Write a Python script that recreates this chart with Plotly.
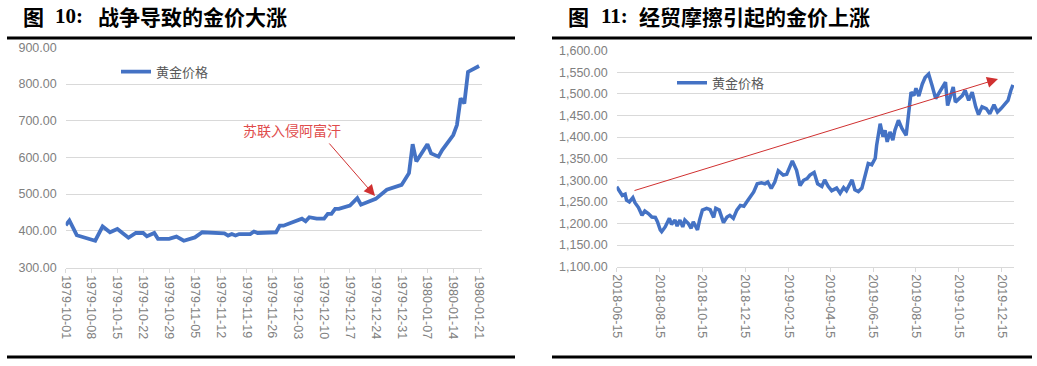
import plotly.graph_objects as go

W, H = 1037, 366

# ---------------- data: chart 10 (war, 1979-1980) ----------------
war_dates = [
    "1979-10-01", "1979-10-02", "1979-10-04", "1979-10-06", "1979-10-09", "1979-10-11",
    "1979-10-13", "1979-10-15", "1979-10-18", "1979-10-20", "1979-10-22", "1979-10-23",
    "1979-10-25", "1979-10-26", "1979-10-29", "1979-10-31", "1979-11-02", "1979-11-05",
    "1979-11-07", "1979-11-13", "1979-11-14", "1979-11-15", "1979-11-16", "1979-11-17",
    "1979-11-20", "1979-11-21", "1979-11-22", "1979-11-27", "1979-11-28", "1979-11-29",
    "1979-12-04", "1979-12-05", "1979-12-06", "1979-12-08", "1979-12-10", "1979-12-11",
    "1979-12-12", "1979-12-13", "1979-12-14", "1979-12-17", "1979-12-19", "1979-12-20",
    "1979-12-24", "1979-12-27", "1979-12-31", "1980-01-02", "1980-01-03", "1980-01-04",
    "1980-01-07", "1980-01-08", "1980-01-10", "1980-01-11", "1980-01-14", "1980-01-15",
    "1980-01-16", "1980-01-17", "1980-01-18", "1980-01-21",
]
war_price = [
    415, 428, 388, 382, 373, 412,
    396, 405, 381, 394, 394, 385,
    394, 378, 378, 384, 373, 382,
    396, 393, 387, 391, 387, 391,
    391, 398, 394, 396, 414, 414,
    433, 426, 437, 433, 433, 446,
    446, 460, 460, 469, 489, 471,
    487, 512, 525, 557, 636, 589,
    636, 611, 602, 620, 661, 688,
    761, 747, 833, 849,
]

# ---------------- data: chart 11 (trade friction, 2018-2019) ----------------
trade_dates = [
    "2018-06-15", "2018-06-20", "2018-06-23", "2018-06-27", "2018-06-29", "2018-07-03",
    "2018-07-08", "2018-07-11", "2018-07-16", "2018-07-21", "2018-07-25", "2018-07-30",
    "2018-08-04", "2018-08-09", "2018-08-12", "2018-08-16", "2018-08-18", "2018-08-23",
    "2018-08-29", "2018-09-01", "2018-09-06", "2018-09-09", "2018-09-13", "2018-09-17",
    "2018-09-20", "2018-09-25", "2018-09-29", "2018-10-02", "2018-10-08", "2018-10-11",
    "2018-10-15", "2018-10-21", "2018-10-26", "2018-10-31", "2018-11-03", "2018-11-08",
    "2018-11-14", "2018-11-19", "2018-11-23", "2018-11-28", "2018-12-03", "2018-12-08",
    "2018-12-13", "2018-12-18", "2018-12-22", "2018-12-27", "2019-01-01", "2019-01-07",
    "2019-01-12", "2019-01-16", "2019-01-21", "2019-01-26", "2019-01-31", "2019-02-07",
    "2019-02-12", "2019-02-16", "2019-02-20", "2019-02-26", "2019-03-03", "2019-03-08",
    "2019-03-13", "2019-03-17", "2019-03-23", "2019-03-28", "2019-04-03", "2019-04-07",
    "2019-04-12", "2019-04-17", "2019-04-24", "2019-04-29", "2019-05-04", "2019-05-08",
    "2019-05-16", "2019-05-20", "2019-05-25", "2019-05-30", "2019-06-04", "2019-06-08",
    "2019-06-13", "2019-06-18", "2019-06-20", "2019-06-25", "2019-06-29", "2019-07-02",
    "2019-07-05", "2019-07-09", "2019-07-13", "2019-07-16", "2019-07-21", "2019-07-26",
    "2019-08-01", "2019-08-04", "2019-08-08", "2019-08-12", "2019-08-15", "2019-08-19",
    "2019-08-24", "2019-08-28", "2019-09-02", "2019-09-07", "2019-09-12", "2019-09-16",
    "2019-09-21", "2019-09-26", "2019-09-29", "2019-10-03", "2019-10-07", "2019-10-10",
    "2019-10-15", "2019-10-20", "2019-10-24", "2019-10-29", "2019-11-03", "2019-11-08",
    "2019-11-12", "2019-11-17", "2019-11-23", "2019-11-28", "2019-12-04", "2019-12-09",
    "2019-12-14", "2019-12-19", "2019-12-24", "2019-12-28", "2019-12-31",
]
trade_price = [
    1285, 1273, 1265, 1268, 1254, 1250,
    1260, 1248, 1237, 1219, 1229, 1223,
    1215, 1214, 1204, 1185, 1181, 1192,
    1212, 1198, 1208, 1194, 1208, 1192,
    1208, 1200, 1189, 1204, 1185, 1208,
    1231, 1235, 1232, 1214, 1235, 1231,
    1202, 1215, 1219, 1212, 1231, 1242,
    1240, 1252, 1260, 1273, 1292, 1294,
    1292, 1296, 1281, 1296, 1322, 1312,
    1314, 1329, 1345, 1323, 1288, 1300,
    1304, 1312, 1318, 1292, 1286, 1301,
    1286, 1276, 1282, 1270, 1283, 1276,
    1301, 1278, 1274, 1282, 1313, 1339,
    1336, 1351, 1381, 1431, 1401, 1416,
    1389, 1412, 1393, 1416, 1439, 1420,
    1404, 1450, 1504, 1496, 1513, 1495,
    1523, 1538, 1546, 1519, 1489, 1500,
    1512, 1527, 1473, 1493, 1516, 1481,
    1489, 1496, 1508, 1485, 1504, 1470,
    1452, 1470, 1466, 1454, 1475, 1458,
    1466, 1477, 1485, 1508, 1521,
]

series_name = "黄金价格"
title_left = ["图", "10:", "战争导致的金价大涨"]
title_right = ["图", "11:", "经贸摩擦引起的金价上涨"]
event_label = "苏联入侵阿富汗"

# ---------------- styles ----------------
BLUE = "#4472C4"
GRID = "#d9d9d9"
TICK = "#808080"
SANS = "Liberation Sans, Arial, sans-serif"
CJK = "Noto Sans CJK SC"

def px(x):
    return x / W

def py(y):
    return 1 - y / H

fig = go.Figure()
fig.add_trace(go.Scatter(x=war_dates, y=war_price, mode="lines", name=series_name,
                         line=dict(color=BLUE, width=3.8), xaxis="x", yaxis="y",
                         legend="legend"))
fig.add_trace(go.Scatter(x=trade_dates, y=trade_price, mode="lines", name=series_name,
                         line=dict(color=BLUE, width=3.5), xaxis="x2", yaxis="y2",
                         legend="legend2"))

xcommon = dict(type="date", tickformat="%Y-%m-%d", tickangle=90, showgrid=False,
               showline=True, linecolor=GRID, linewidth=1.3, ticks="outside",
               ticklen=4, tickcolor=GRID, tickfont=dict(family=SANS, size=12.5, color=TICK),
               zeroline=False, fixedrange=True, automargin=False)
ycommon = dict(showgrid=True, gridcolor=GRID, gridwidth=1.3, zeroline=False,
               showline=False, ticks="", tickformat=",.2f", ticklabelstandoff=8,
               tickfont=dict(family=SANS, size=12.5, color=TICK), fixedrange=True,
               automargin=False)

fig.update_layout(
    width=W, height=H, margin=dict(l=0, r=0, t=0, b=0, autoexpand=False),
    paper_bgcolor="white", plot_bgcolor="white",
    xaxis=dict(xcommon, domain=[px(65.7), px(481.7)], anchor="y",
               range=["1979-10-01", "1980-01-21 17:00"],
               tick0="1979-10-01", dtick=7 * 86400000),
    yaxis=dict(ycommon, domain=[py(267.5), py(47.3)], anchor="x",
               range=[300, 900], dtick=100),
    xaxis2=dict(xcommon, domain=[px(616.7), px(1014)], anchor="y2",
                range=["2018-06-15", "2020-01-01 12:00"],
                tick0="2018-06-15", dtick="M2"),
    yaxis2=dict(ycommon, domain=[py(266.7), py(50.7)], anchor="x2",
                range=[1100, 1600], dtick=50),
    legend=dict(x=px(116), y=py(71.7), xanchor="left", yanchor="middle",
                bgcolor="rgba(0,0,0,0)", font=dict(family=CJK, size=13, color="#595959")),
    legend2=dict(x=px(672), y=py(82.7), xanchor="left", yanchor="middle",
                 bgcolor="rgba(0,0,0,0)", font=dict(family=CJK, size=13, color="#595959")),
    showlegend=True,
)

# rules
for x0, x1 in [(7, 515), (552, 1032)]:
    for yy in (38, 357):
        fig.add_shape(type="line", xref="paper", yref="paper",
                      x0=px(x0), x1=px(x1), y0=py(yy), y1=py(yy),
                      line=dict(color="black", width=3))

# titles
def add_title(parts, xs):
    fonts = [dict(family=CJK, size=21, color="black"),
             dict(family="Liberation Serif", size=21, color="black"),
             dict(family=CJK, size=21, color="black")]
    for t, x, f in zip(parts, xs, fonts):
        fig.add_annotation(text="<b>" + t + "</b>", xref="paper", yref="paper",
                           x=px(x), y=py(16.5), xanchor="left", yanchor="middle",
                           showarrow=False, font=f)

add_title(title_left, [21, 53, 96])
add_title(title_right, [566, 599, 637])

# event label + arrows
fig.add_annotation(text=event_label, xref="paper", yref="paper", x=px(292), y=py(130),
                   xanchor="center", yanchor="middle", showarrow=False,
                   font=dict(family=CJK, size=14, color="#E04B4B"))
fig.add_annotation(text="", xref="paper", yref="paper", x=px(375), y=py(196),
                   ax=-47, ay=-54, showarrow=True, arrowhead=2, arrowsize=2.2,
                   arrowwidth=1, arrowcolor="#D03030", standoff=0)
fig.add_annotation(text="", xref="paper", yref="paper", x=px(998), y=py(79),
                   ax=-365, ay=112, showarrow=True, arrowhead=2, arrowsize=2.2,
                   arrowwidth=1, arrowcolor="#D03030", standoff=0)

fig.write_html("out.html", config={"displayModeBar": False},
               post_script="document.body.style.margin='0';document.body.style.overflow='hidden';")
